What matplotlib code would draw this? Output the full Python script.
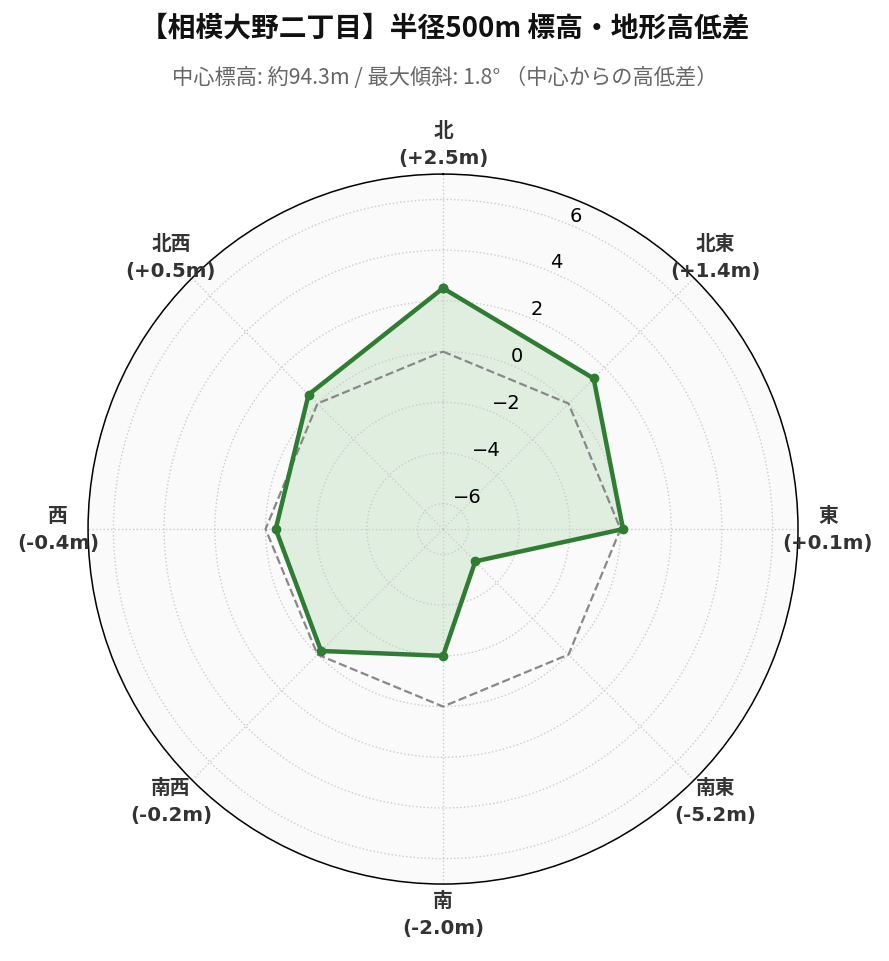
import numpy as np
import matplotlib.pyplot as plt

plt.rcParams['font.family'] = ['DejaVu Sans', 'Noto Sans CJK JP']
plt.rcParams['axes.unicode_minus'] = True

directions = ['北', '北東', '東', '南東', '南', '南西', '西', '北西']
diffs = [2.5, 1.4, 0.1, -5.2, -2.0, -0.2, -0.4, 0.5]
rticks = [-6, -4, -2, 0, 2, 4, 6]

title = '【相模大野二丁目】半径500m 標高・地形高低差'
subtitle = '中心標高: 約94.3m / 最大傾斜: 1.8° （中心からの高低差）'

n = len(directions)
angles = np.linspace(0, 2 * np.pi, n, endpoint=False)
ang_c = np.append(angles, angles[0])
vals_c = np.append(diffs, diffs[0])
zero_c = np.zeros_like(ang_c)

fig = plt.figure(figsize=(8.89, 9.62), dpi=100)
ax = fig.add_axes([0.0990, 0.0800, 0.7987, 0.7380], projection='polar')
ax.set_theta_zero_location('N')
ax.set_theta_direction(-1)
ax.set_facecolor('#fafafa')
ax.set_ylim(-7, 7)

ax.plot(ang_c, zero_c, color='#888888', lw=1.6, ls='--', zorder=2)
ax.fill(ang_c, vals_c, color='#4caf50', alpha=0.15, zorder=1)
ax.plot(ang_c, vals_c, color='#2e7d32', lw=3.2, marker='o', ms=6, zorder=3)

ax.set_xticks(angles)
ax.set_xticklabels([])
ax.set_yticks(rticks)
ax.set_yticklabels(['\u2212%d' % -t if t < 0 else str(t) for t in rticks],
                   fontsize=14, color='black', family='DejaVu Sans')
ax.set_rlabel_position(22.5)
ax.grid(True, color='#cccccc', ls=':', lw=1)
ax.spines['polar'].set_linewidth(1.1)

for a, d, v in zip(angles, directions, diffs):
    ax.text(a, 8.18, '%s\n(%+.1fm)' % (d, v), ha='center', va='center',
            fontsize=14.2, fontweight='bold', color='#333333',
            family=['DejaVu Sans', 'Noto Sans CJK JP'],
            linespacing=1.5, clip_on=False)

fig.text(0.5, 0.970, title, ha='center', va='center', fontsize=20,
         fontweight='bold', family=['Noto Sans CJK JP', 'DejaVu Sans'],
         color='#111111')
fig.text(0.5, 0.919, subtitle, ha='center', va='center', fontsize=15.3,
         family=['Noto Sans CJK JP', 'DejaVu Sans'], color='#666666')

fig.savefig('out.png', dpi=100)
